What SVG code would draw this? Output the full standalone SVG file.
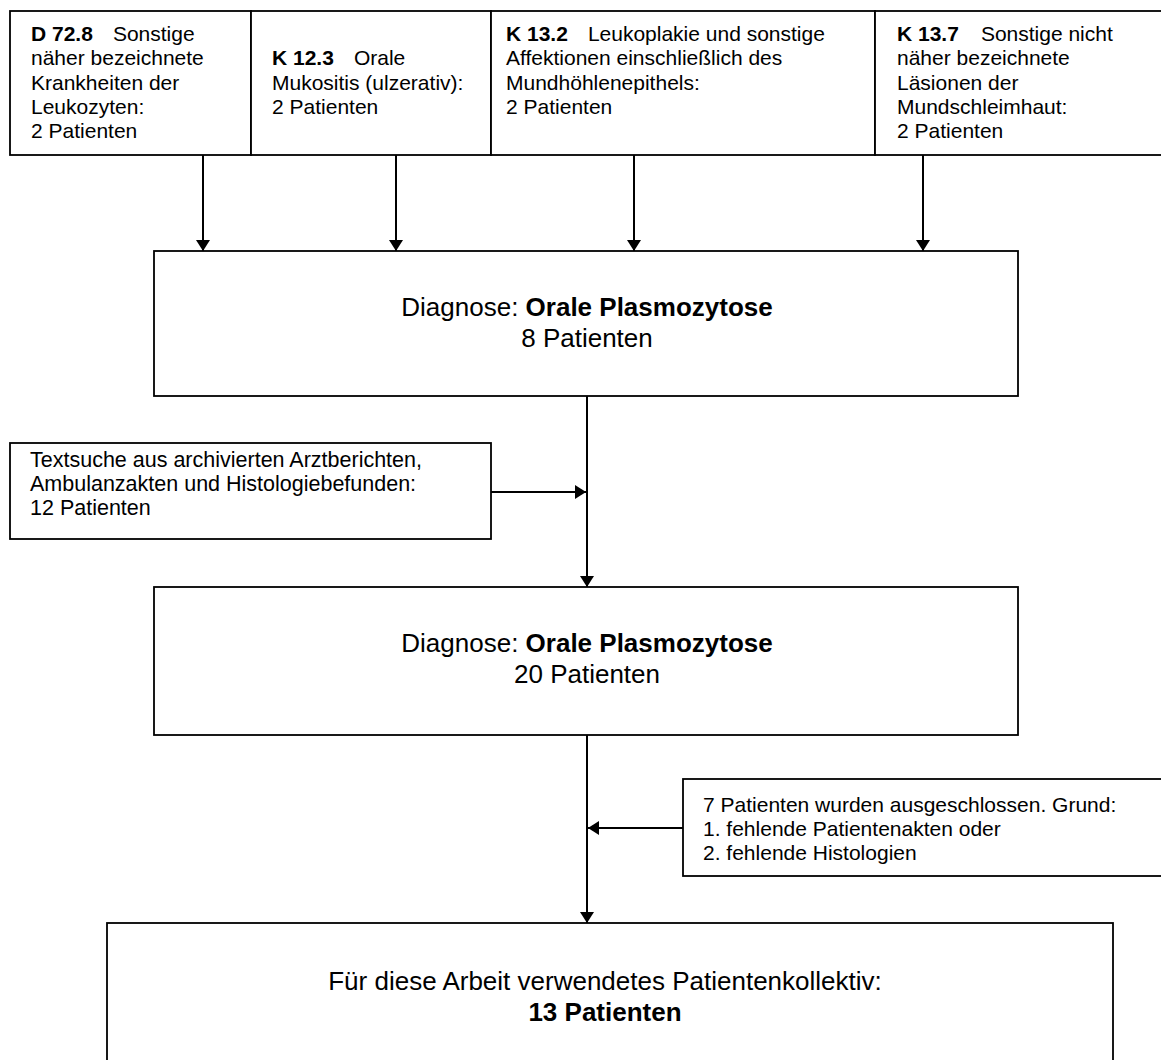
<svg xmlns="http://www.w3.org/2000/svg" width="1161" height="1060" viewBox="0 0 1161 1060">
<style>
.box{fill:#fff;stroke:#000;stroke-width:1.8}
.t{font-family:"Liberation Sans",Arial,sans-serif;font-size:21px;fill:#000}
.m{font-family:"Liberation Sans",Arial,sans-serif;font-size:26px;fill:#000;text-anchor:middle}
.b{font-weight:bold}
.c{stroke:#000;stroke-width:2;fill:none;marker-end:url(#ah)}
</style>
<defs>
<marker id="ah" viewBox="0 0 11 14" markerWidth="11" markerHeight="14" refX="11" refY="7" orient="auto" markerUnits="userSpaceOnUse">
<path d="M0,0 L11,7 L0,14 z" fill="#000"/>
</marker>
</defs>
<rect width="1161" height="1060" fill="#fff"/>
<g id="n-d728">
<rect class="box" x="10" y="11" width="241" height="144"/>
<text class="t" x="31" y="41"><tspan class="b">D 72.8</tspan><tspan dx="20">Sonstige</tspan></text>
<text class="t" x="31" y="65">näher bezeichnete</text>
<text class="t" x="31" y="90">Krankheiten der</text>
<text class="t" x="31" y="114">Leukozyten:</text>
<text class="t" x="31" y="138">2 Patienten</text>
</g>
<g id="n-k123">
<rect class="box" x="251" y="11" width="240" height="144"/>
<text class="t" x="272" y="65"><tspan class="b">K 12.3</tspan><tspan dx="20">Orale</tspan></text>
<text class="t" x="272" y="90">Mukositis (ulzerativ):</text>
<text class="t" x="272" y="114">2 Patienten</text>
</g>
<g id="n-k132">
<rect class="box" x="491" y="11" width="384" height="144"/>
<text class="t" x="506" y="41"><tspan class="b">K 13.2</tspan><tspan dx="20">Leukoplakie und sonstige</tspan></text>
<text class="t" x="506" y="65">Affektionen einschließlich des</text>
<text class="t" x="506" y="90">Mundhöhlenepithels:</text>
<text class="t" x="506" y="114">2 Patienten</text>
</g>
<g id="n-k137">
<rect class="box" x="875" y="11" width="290" height="144"/>
<text class="t" x="897" y="41"><tspan class="b">K 13.7</tspan><tspan dx="22">Sonstige nicht</tspan></text>
<text class="t" x="897" y="65">näher bezeichnete</text>
<text class="t" x="897" y="90">Läsionen der</text>
<text class="t" x="897" y="114">Mundschleimhaut:</text>
<text class="t" x="897" y="138">2 Patienten</text>
</g>
<g id="n-diag8">
<rect class="box" x="154" y="251" width="864" height="145"/>
<text class="m" x="587" y="316">Diagnose: <tspan class="b">Orale Plasmozytose</tspan></text>
<text class="m" x="587" y="347">8 Patienten</text>
</g>
<g id="n-textsuche">
<rect class="box" x="10" y="443" width="481" height="96"/>
<text class="t" x="30" y="467" style="font-size:21.5px">Textsuche aus archivierten Arztberichten,</text>
<text class="t" x="30" y="491" style="font-size:21.5px">Ambulanzakten und Histologiebefunden:</text>
<text class="t" x="30" y="515" style="font-size:21.5px">12 Patienten</text>
</g>
<g id="n-diag20">
<rect class="box" x="154" y="587" width="864" height="148"/>
<text class="m" x="587" y="652">Diagnose: <tspan class="b">Orale Plasmozytose</tspan></text>
<text class="m" x="587" y="683">20 Patienten</text>
</g>
<g id="n-excl">
<rect class="box" x="683" y="779" width="482" height="97"/>
<text class="t" x="703" y="812">7 Patienten wurden ausgeschlossen. Grund:</text>
<text class="t" x="703" y="836">1. fehlende Patientenakten oder</text>
<text class="t" x="703" y="860">2. fehlende Histologien</text>
</g>
<g id="n-final">
<rect class="box" x="107" y="923" width="1006" height="140"/>
<text class="m" x="605" y="990">Für diese Arbeit verwendetes Patientenkollektiv:</text>
<text class="m b" x="605" y="1021">13 Patienten</text>
</g>
<g id="connectors">
<line class="c" x1="203" y1="155" x2="203" y2="251"/>
<line class="c" x1="396" y1="155" x2="396" y2="251"/>
<line class="c" x1="634" y1="155" x2="634" y2="251"/>
<line class="c" x1="923" y1="155" x2="923" y2="251"/>
<line class="c" x1="587" y1="396" x2="587" y2="587"/>
<line class="c" x1="491" y1="492" x2="586" y2="492"/>
<line class="c" x1="587" y1="735" x2="587" y2="923"/>
<line class="c" x1="683" y1="828" x2="588" y2="828"/>
</g>
</svg>
